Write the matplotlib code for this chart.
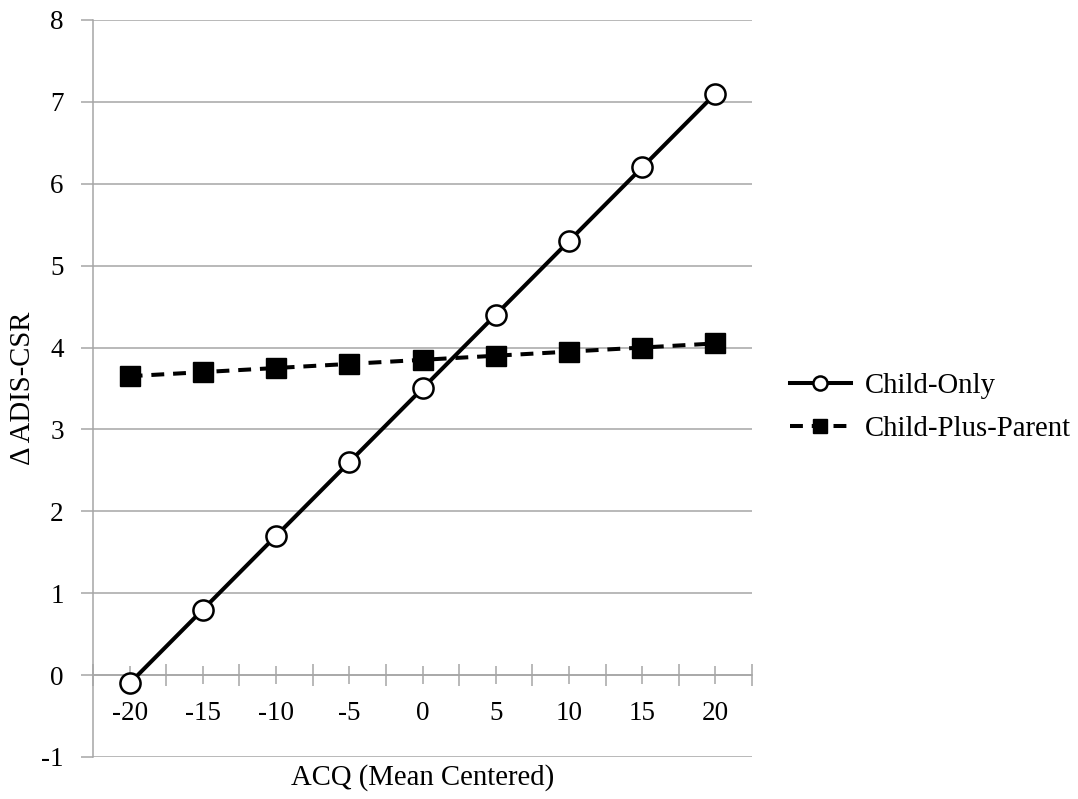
import matplotlib

matplotlib.use("Agg")
import matplotlib.pyplot as plt
from matplotlib.ticker import FixedLocator

# data
acq_labels = ["-20", "-15", "-10", "-5", "0", "5", "10", "15", "20"]
child_only = [-0.1, 0.8, 1.7, 2.6, 3.5, 4.4, 5.3, 6.2, 7.1]
child_plus_parent = [3.65, 3.70, 3.75, 3.80, 3.85, 3.90, 3.95, 4.00, 4.05]
y_ticks = [-1, 0, 1, 2, 3, 4, 5, 6, 7, 8]

plt.rcParams.update(
    {
        "font.family": ["Liberation Serif", "DejaVu Serif"],
        "font.size": 19.5,
        "axes.unicode_minus": False,
    }
)

grid_color = "#a6a6a6"
title_size = 20.7

fig = plt.figure(figsize=(10.78, 7.99), dpi=100)
ax = fig.add_axes([0.0863, 0.0526, 0.6113, 0.9224])

x = list(range(len(acq_labels)))

ax.plot(x, child_only, color="black", lw=2.9, marker="o", ms=14.5,
        mfc="white", mec="black", mew=1.8, label="Child-Only", zorder=4)
ax.plot(x, child_plus_parent, color="black", lw=2.9, ls=(0, (3.2, 2.2)),
        marker="s", ms=15, mfc="black", mec="black", label="Child-Plus-Parent", zorder=3)

ax.set_xlim(-0.5, len(acq_labels) - 0.5)
ax.set_ylim(-1, 8)
ax.set_yticks(y_ticks)
ax.yaxis.grid(True, color=grid_color, lw=1.1)
ax.set_axisbelow(True)

# category axis sits at y = 0
ax.spines["bottom"].set_position(("data", 0))
ax.spines["bottom"].set_color(grid_color)
ax.spines["bottom"].set_linewidth(1.1)
ax.spines["left"].set_color(grid_color)
ax.spines["left"].set_linewidth(1.1)
ax.spines["top"].set_visible(False)
ax.spines["right"].set_visible(False)

ax.set_xticks(x, acq_labels)
ax.xaxis.set_minor_locator(FixedLocator([i - 0.5 for i in range(len(acq_labels) + 1)]))
ax.tick_params(axis="x", which="major", direction="inout", length=13, width=1.1,
               color=grid_color, pad=12)
ax.tick_params(axis="x", which="minor", direction="inout", length=16, width=1.1,
               color=grid_color)
ax.tick_params(axis="y", direction="out", length=9, width=1.1, color=grid_color, pad=12)

ax.set_xlabel("ACQ (Mean Centered)", fontsize=title_size)
ax.xaxis.set_label_coords(0.5, -0.0285)
ax.xaxis.label.set_va("center")
ax.set_ylabel("\u0394 ADIS-CSR", fontsize=title_size)
ax.yaxis.set_label_coords(-0.106, 0.5)
ax.yaxis.label.set_va("center")

fig.legend(
    loc="center left",
    bbox_to_anchor=(0.733, 0.49),
    frameon=False,
    fontsize=title_size,
    handlelength=2.1,
    handletextpad=0.5,
    borderpad=0,
    borderaxespad=0,
    labelspacing=0.6,
    markerscale=0.7,
)

fig.savefig("out.png", dpi=100)
